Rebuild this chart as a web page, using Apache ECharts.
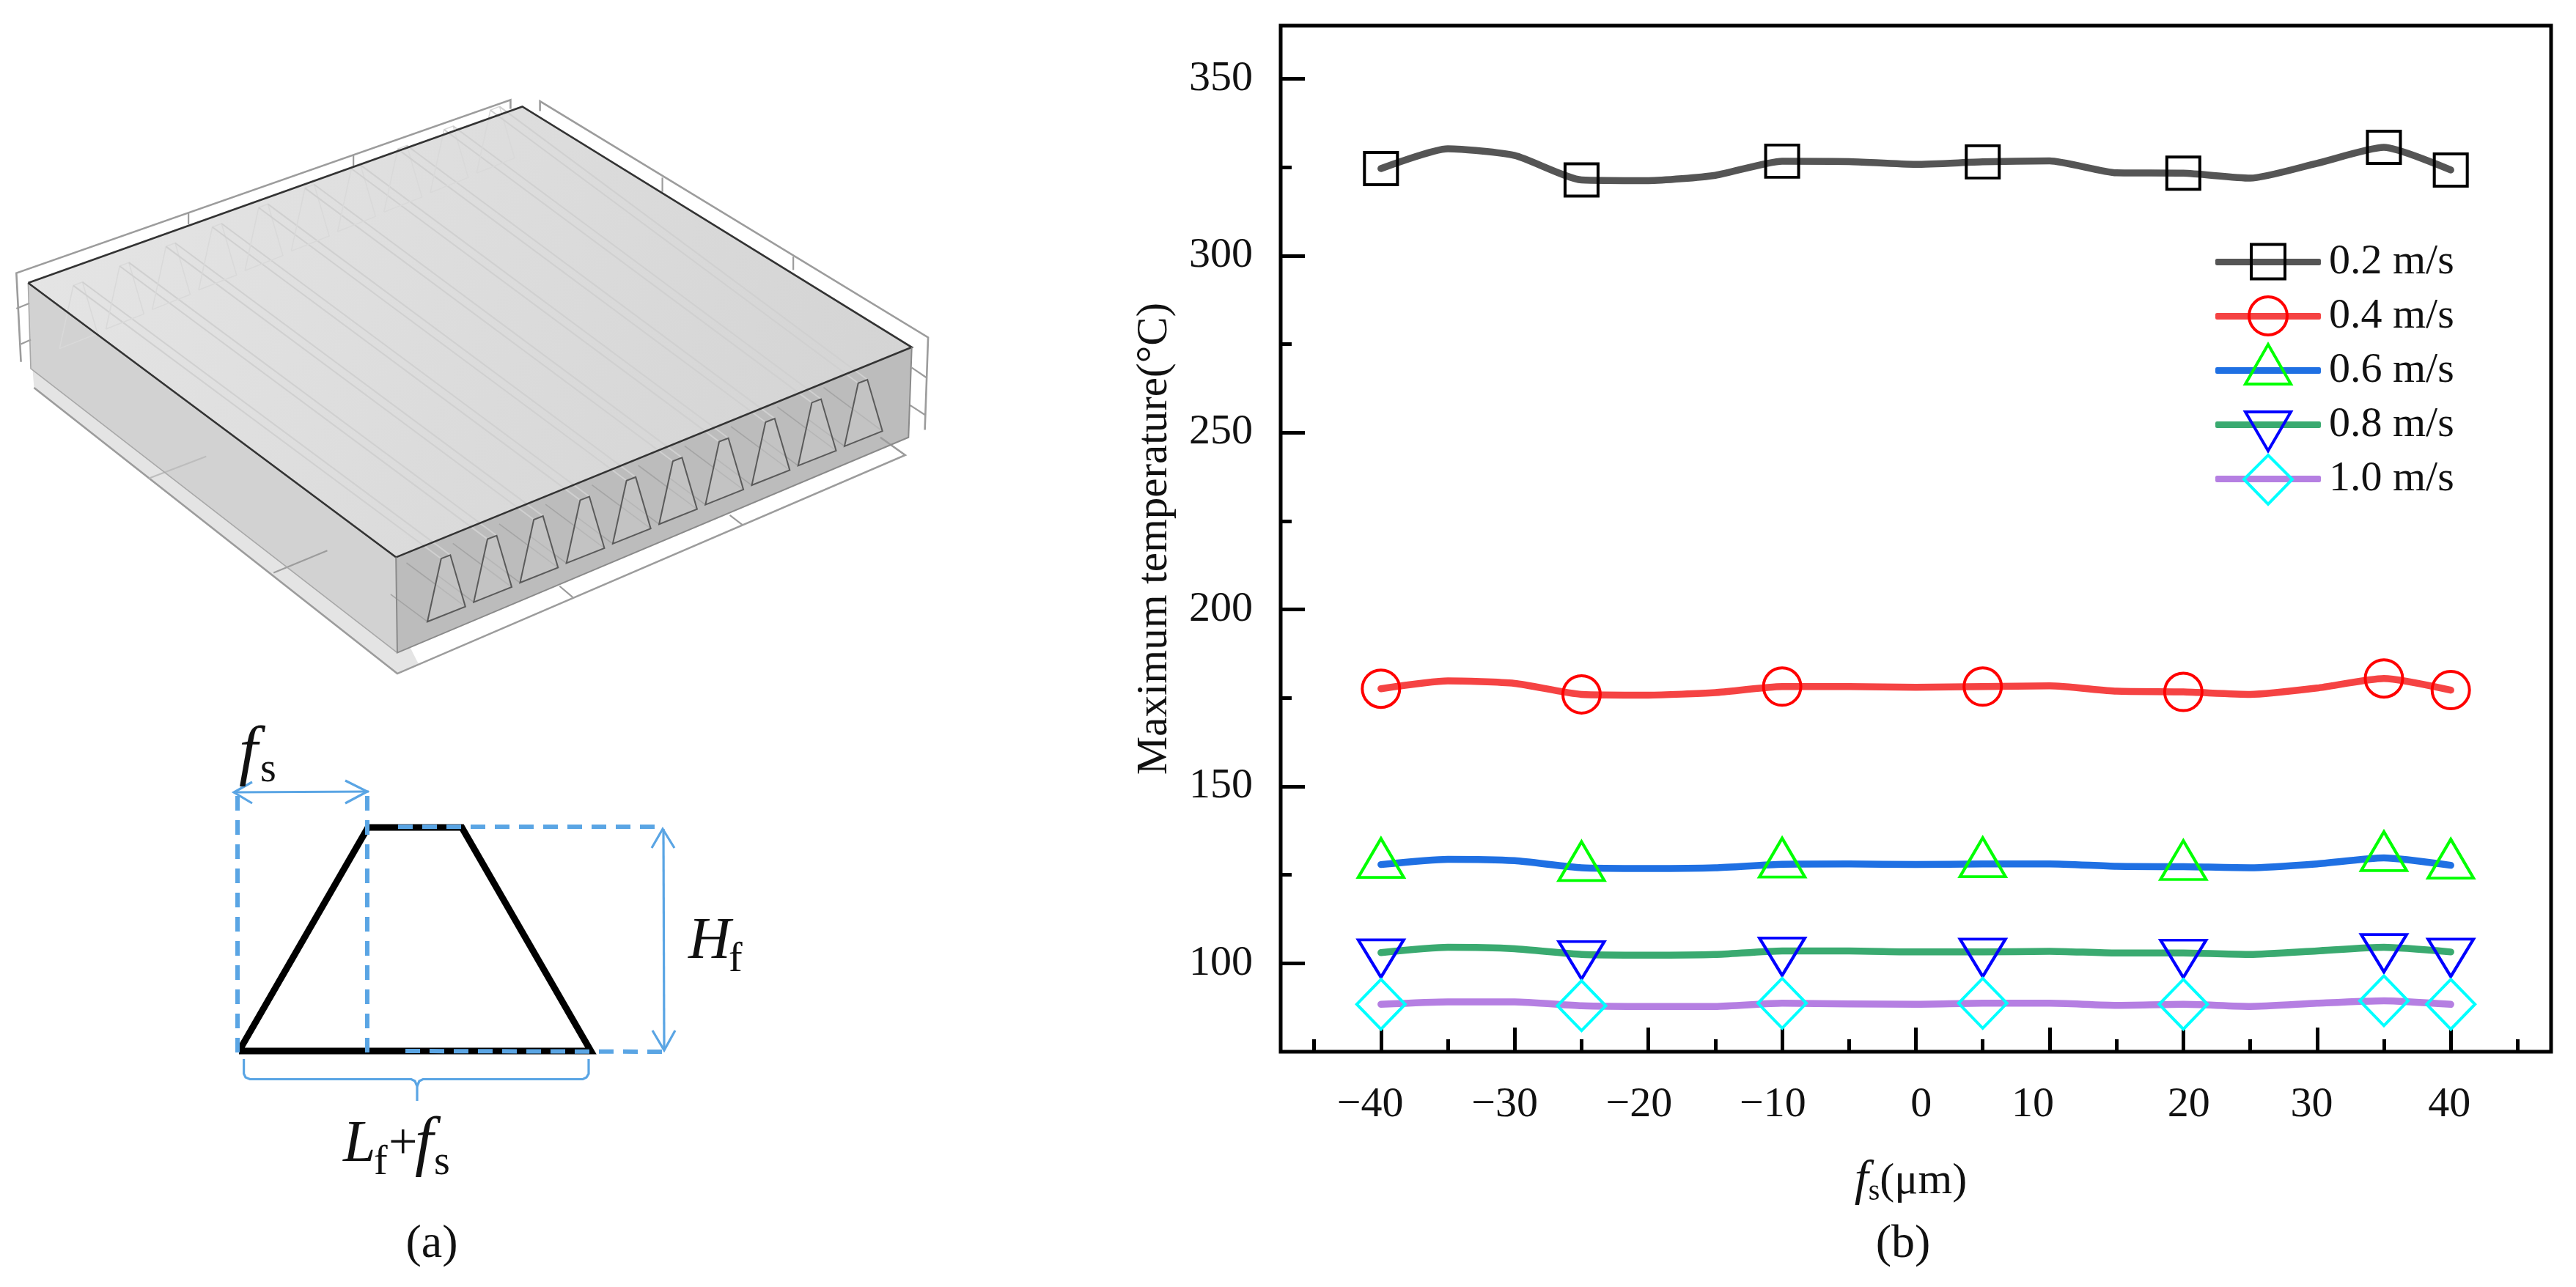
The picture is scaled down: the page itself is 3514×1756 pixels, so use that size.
<!DOCTYPE html>
<html><head><meta charset="utf-8">
<style>html,body{margin:0;padding:0;background:#fff}#c{width:3514px;height:1756px}</style>
<script src="https://cdn.jsdelivr.net/npm/echarts@6/dist/echarts.min.js"></script>
</head><body><div id="c"></div>
<script>
// ---- data ----
const fsValues = [-40,-35,-30,-25,-20,-15,-10,-5,0,5,10,15,20,25,30,35,40];
const markedFs = [-40,-25,-10,5,20,35,40];
const seriesNames = ['0.2 m/s','0.4 m/s','0.6 m/s','0.8 m/s','1.0 m/s'];
const v02 = [324.6,330.2,328.3,321.4,321.2,322.7,326.7,326.6,325.8,326.5,326.8,323.4,323.3,321.9,326.1,330.6,324.2];
const v04 = [177.6,179.8,179.1,176.0,175.8,176.5,178.2,178.2,178.0,178.2,178.4,176.9,176.7,176.0,177.8,180.5,177.2];
const v06 = [127.9,129.4,129.0,127.0,126.8,127.0,128.0,128.1,127.9,128.1,128.1,127.4,127.3,127.0,128.1,129.8,127.7];
const v08 = [103.0,104.5,104.1,102.5,102.3,102.5,103.5,103.5,103.2,103.2,103.4,102.9,102.9,102.5,103.5,104.5,103.2];
const v10 = [88.4,89.1,89.1,88.0,87.8,87.8,88.7,88.5,88.4,88.7,88.7,88.1,88.4,87.8,88.7,89.4,88.4];
const xTickLabels = [-40,-30,-20,-10,0,10,20,30,40];
const xMinorTicks = [-45,-35,-25,-15,-5,5,15,25,35,45];
const yTickLabels = [100,150,200,250,300,350];
const yMinorTicks = [125,175,225,275,325];

// ---- styles ----
const SERIF = '"Liberation Serif","Times New Roman",serif';
const lineColors = ['#555555','#f54343','#1f70e3','#3aaa70','#b57fe2'];
const markColors = ['#000000','#ff0000','#00ff00','#0000ff','#00ffff'];
const marks = [
  {symbol:'rect',size:[45,44],rotate:0,offset:[0,0]},
  {symbol:'circle',size:51,rotate:0,offset:[0,0]},
  {symbol:'triangle',size:[62,53],rotate:0,offset:[0,-9]},
  {symbol:'triangle',size:[62,51],rotate:180,offset:[0,8]},
  {symbol:'diamond',size:[66,68],rotate:0,offset:[0,0]}
];
const allValues = [v02,v04,v06,v08,v10];
// horizontal nudges (axis units) of the x tick labels, which sit off their ticks in the source
const xLabelNudge = {'-40':-0.8,'-30':-0.75,'-20':-0.7,'-10':-0.7,'0':0.4,'10':-1.25,'20':0.4,'30':-0.4,'40':-0.1};

const series = seriesNames.map((name,i)=>({
  name,type:'line',smooth:0.2,
  symbol:marks[i].symbol,symbolSize:marks[i].size,symbolRotate:marks[i].rotate,symbolOffset:marks[i].offset,
  showAllSymbol:true,animation:false,z:3+i,
  lineStyle:{color:lineColors[i],width:9.5,cap:'round',join:'round'},
  itemStyle:{color:'rgba(0,0,0,0)',borderColor:markColors[i],borderWidth:4},
  emphasis:{disabled:true},
  data:fsValues.map((x,k)=>markedFs.includes(x)?[x,allValues[i][k]]:{value:[x,allValues[i][k]],symbol:'none'})
}));

// ---- legend markers (same glyphs as the plot, overlaid on the native legend's lines) ----
const LX=3094;
const legendY=[357.5,432,506,580,654];
const legStroke=(c)=>({fill:'none',stroke:c,lineWidth:4,lineJoin:'miter'});
const legendMarks=[
 {type:'rect',z:20,shape:{x:LX-23,y:legendY[0]-24,width:46,height:47},style:legStroke(markColors[0])},
 {type:'circle',z:20,shape:{cx:LX,cy:legendY[1]-1,r:26},style:legStroke(markColors[1])},
 {type:'polygon',z:20,shape:{points:[[LX,legendY[2]-36],[LX+31,legendY[2]+18],[LX-31,legendY[2]+18]]},style:legStroke(markColors[2])},
 {type:'polygon',z:20,shape:{points:[[LX,legendY[3]+35],[LX+31,legendY[3]-18],[LX-31,legendY[3]-18]]},style:legStroke(markColors[3])},
 {type:'polygon',z:20,shape:{points:[[LX,legendY[4]-33],[LX+33,legendY[4]],[LX,legendY[4]+34],[LX-33,legendY[4]]]},style:legStroke(markColors[4])}
];

// ---- panel (a): schematic drawn with graphic elements ----
const SX=1400/1568,SY=950/1568;
const P=(x,y)=>[x*SX,y*SY];
const g=[];
const poly=(pts,fill,stroke,w,z)=>g.push({type:'polygon',z:z||1,shape:{points:pts.map(p=>P(p[0],p[1]))},style:{fill:fill||'none',stroke:stroke||'none',lineWidth:w||0}});
const pl=(pts,stroke,w,z,dash)=>g.push({type:'polyline',z:z||2,shape:{points:pts.map(p=>P(p[0],p[1]))},style:{fill:'none',stroke,lineWidth:w,lineDash:dash||null,lineJoin:'miter'}});
// ground and frames
poly([[52,873],[607,1517],[640,1497],[607,1400],[47,780]],'#e4e4e4');
const frame='#9c9c9c';
pl([[32,815],[25,615],[780,225],[780,245]],frame,2.6);
pl([[288,480],[288,505]],frame,2.2);pl([[540,350],[540,378]],frame,2.2);
pl([[25,695],[45,683]],frame,2.2);pl([[32,775],[47,765]],frame,2.2);
pl([[825,250],[825,228],[1418,760],[1413,968]],frame,2.6);
pl([[1012,400],[1012,432]],frame,2.2);pl([[1212,578],[1212,608]],frame,2.2);
pl([[1393,828],[1415,850]],frame,2.2);pl([[1390,912],[1414,935]],frame,2.2);
pl([[52,873],[607,1517],[1383,1025],[1345,985]],frame,2.6);
pl([[228,1077],[315,1028]],'#bdbdbd',2.2);pl([[418,1290],[500,1240]],frame,2.2);
pl([[855,1320],[875,1345]],frame,2.2);pl([[1115,1160],[1135,1183]],frame,2.2);
// box faces
poly([[43,637],[605,1255],[607,1470],[47,830]],'#d2d2d2');
poly([[605,1255],[1393,782],[1388,985],[607,1470]],'#bcbcbc');
g.push({type:'polygon',z:1,shape:{points:[[43,637],[798,240],[1393,782],[605,1255]].map(p=>P(p[0],p[1]))},
  style:{fill:{type:'linear',x:0,y:0,x2:1,y2:1,colorStops:[{offset:0,color:'#e6e6e6'},{offset:1,color:'#d2d2d2'}]}}});
// fins
const FINS=10,STEP=[70.8,-43.9],RIDGE=[-562,-615];
for(let i=0;i<FINS;i++){
  const dx=STEP[0]*i,dy=STEP[1]*i;
  const f=[[653+dx,1400+dy],[711+dx,1366+dy],[688+dx,1250+dy],[674+dx,1258+dy]];
  const back=f.map(p=>[p[0]+RIDGE[0],p[1]+RIDGE[1]]);
  pl(back.concat([back[0]]),'#d9d9d9',1.5,2);
  pl([f[3],back[3]],'#d0d0d0',2,2);
  pl([f[2],back[2]],'#d0d0d0',2,2);
  pl([f[1],[f[1][0]+RIDGE[0]*.16,f[1][1]+RIDGE[1]*.16]],'#a4a4a4',1.6,2);
  pl([f[0],[f[0][0]+RIDGE[0]*.1,f[0][1]+RIDGE[1]*.1]],'#a4a4a4',1.6,2);
  poly(f,'rgba(205,205,205,0.45)','#5a5a5a',2,3);
}
// box edges
pl([[43,637],[798,240],[1393,782],[605,1255],[43,637]],'#333333',2.6,4);
pl([[605,1255],[607,1470],[1388,985],[1393,782]],'#8a8a8a',2,4);
pl([[43,637],[47,830],[607,1470]],'#a8a8a8',1.6,2);

// trapezoid
const blue='#5aa5e4';
g.push({type:'polyline',z:2,shape:{points:[[326,1434],[806,1434],[630,1129],[502,1129],[326,1434]]},style:{fill:'none',stroke:'#000',lineWidth:9,lineJoin:'miter'}});
const dashed=(a,b)=>g.push({type:'line',z:3,shape:{x1:a[0],y1:a[1],x2:b[0],y2:b[1]},style:{stroke:blue,lineWidth:6,lineDash:[20,13]}});
dashed([324,1086],[324,1436]);dashed([501,1086],[501,1436]);
dashed([543,1128],[905,1128]);dashed([553,1434],[912,1435]);
const thin=(pts)=>g.push({type:'polyline',z:3,shape:{points:pts},style:{fill:'none',stroke:blue,lineWidth:3.2}});
thin([[319,1081],[503,1080]]);thin([[344,1067],[319,1081],[344,1096]]);thin([[471,1065],[501,1080],[471,1096]]);
thin([[905,1131],[906,1433]]);thin([[889,1157],[904,1131],[920,1157]]);thin([[890,1406],[906,1433],[921,1406]]);
thin([[332.6,1445],[332.6,1465],[335,1470],[341,1472.5],[561,1472.5],[566,1475],[569,1482],[569,1502]]);
thin([[569,1482],[572,1475],[577,1472.5],[795,1472.5],[800,1470],[803,1465],[803,1445]]);

// diagram and panel text
const txt=(text,x,y,size,italic,align)=>g.push({type:'text',z:5,style:{text,x,y,textAlign:align||'left',textVerticalAlign:'middle',
  font:(italic?'italic ':'')+size+'px '+SERIF,fill:'#111'}});
txt('f',326,1030,92,true);txt('s',355,1051,56,false);
txt('H',939,1286,80,true);txt('f',994,1310,56,false);
txt('L',468,1563,80,true);txt('f',510,1587,56,false);txt('+',530,1563,70,false);txt('f',566,1563,90,true);txt('s',592,1587,56,false);
txt('(a)',589,1698,64,false,'center');
txt('(b)',2596,1698,64,false,'center');

const option={
  animation:false,backgroundColor:'#fff',
  grid:{left:1747,top:35,width:1733,height:1400,show:true,borderColor:'#000',borderWidth:5,backgroundColor:'transparent',containLabel:false},
  legend:{
    orient:'vertical',left:3022,top:328.5,padding:0,itemWidth:144,itemHeight:9,itemGap:16,selectedMode:false,z:6,
    textStyle:{fontFamily:SERIF,fontSize:58,color:'#111',lineHeight:58,padding:[0,0,0,6]},
    data:seriesNames.map((n,i)=>({name:n,icon:'roundRect',itemStyle:{color:lineColors[i],borderWidth:0}}))
  },
  xAxis:[
    {type:'value',min:-47.5,max:47.5,position:'bottom',splitLine:{show:false},
     axisLine:{show:false,onZero:false},
     axisTick:{inside:true,length:33,lineStyle:{color:'#000',width:5},customValues:xTickLabels},
     axisLabel:{margin:44,fontFamily:SERIF,fontSize:58,color:'#111',
       customValues:xTickLabels.map(v=>v+xLabelNudge[v]),
       formatter:v=>{const r=Math.round(v/10)*10;return (r<0?'\u2212':'')+Math.abs(r);}},
     name:'{i|f}{s|s}{n|(\u03bcm)}',nameLocation:'middle',nameGap:143,
     nameTextStyle:{fontFamily:SERIF,fontSize:60,color:'#111',rich:{
       i:{fontFamily:SERIF,fontStyle:'italic',fontSize:68,color:'#111'},
       s:{fontFamily:SERIF,fontSize:40,color:'#111',verticalAlign:'bottom',padding:[14,0,0,0]},
       n:{fontFamily:SERIF,fontSize:60,color:'#111',padding:[0,14,0,0]}}}},
    {type:'value',min:-47.5,max:47.5,position:'bottom',splitLine:{show:false},axisLine:{show:false,onZero:false},
     axisLabel:{show:false},
     axisTick:{inside:true,length:17,lineStyle:{color:'#000',width:5},customValues:xMinorTicks}}
  ],
  yAxis:[
    {type:'value',min:75,max:365,position:'left',splitLine:{show:false},axisLine:{show:false,onZero:false},
     axisTick:{inside:true,length:33,lineStyle:{color:'#000',width:5},customValues:yTickLabels},
     axisLabel:{margin:38,fontFamily:SERIF,fontSize:58,color:'#111',customValues:yTickLabels},
     name:'Maximum temperature(\u00b0C)',nameLocation:'middle',nameGap:142,nameRotate:90,
     nameTextStyle:{fontFamily:SERIF,fontSize:59,color:'#111'}},
    {type:'value',min:75,max:365,position:'left',splitLine:{show:false},axisLine:{show:false,onZero:false},
     axisLabel:{show:false},
     axisTick:{inside:true,length:15,lineStyle:{color:'#000',width:5},customValues:yMinorTicks}}
  ],
  series,
  graphic:{elements:g.concat(legendMarks)}
};
echarts.init(document.getElementById('c'),null,{renderer:'canvas',devicePixelRatio:1}).setOption(option);
</script></body></html>
